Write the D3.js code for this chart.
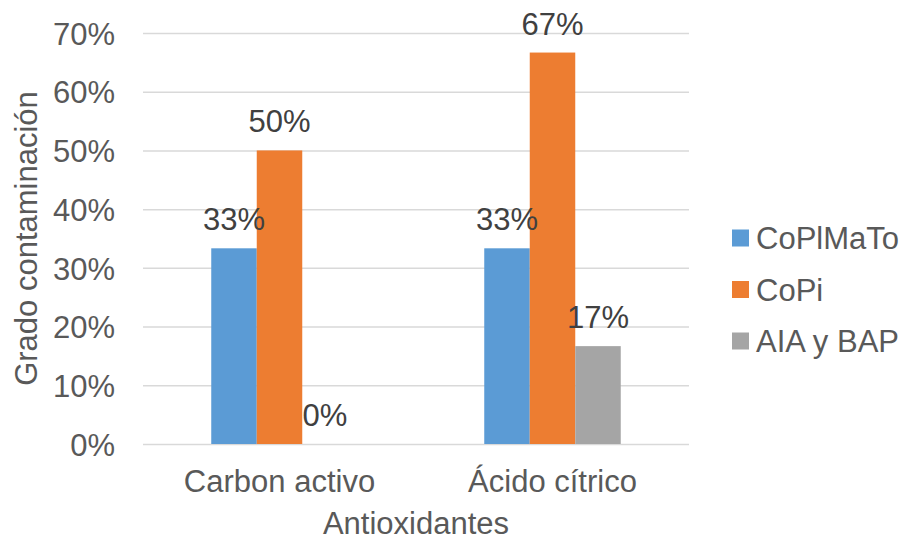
<!DOCTYPE html>
<html>
<head>
<meta charset="utf-8">
<script src="https://cdn.jsdelivr.net/npm/d3@7"></script>
<style>
  body { margin: 0; background: #fff; }
  svg { display: block; font-family: "Liberation Sans", Arial, sans-serif; }
</style>
</head>
<body>
<svg id="chart" width="908" height="540"></svg>
<script>
// Contamination grade by antioxidant treatment and culture medium
const categories = ["Carbon activo", "Ácido cítrico"];
const seriesNames = ["CoPlMaTo", "CoPi", "AIA y BAP"];
const valuesCoPlMaTo = [0.3333, 0.3333];
const valuesCoPi = [0.5, 0.6667];
const valuesAIA = [0, 0.1667];
const yTicks = [0, 0.1, 0.2, 0.3, 0.4, 0.5, 0.6, 0.7];
const colors = ["#5B9BD5", "#ED7D31", "#A5A5A5"];

const seriesValues = [valuesCoPlMaTo, valuesCoPi, valuesAIA];

const svg = d3.select("#chart");
const margin = { top: 33, right: 219, bottom: 96, left: 143 };
const W = +svg.attr("width"), H = +svg.attr("height");
const innerW = W - margin.left - margin.right;
const innerH = H - margin.top - margin.bottom;

const g = svg.append("g").attr("transform", `translate(${margin.left},${margin.top})`);

const x0 = d3.scaleBand().domain(categories).range([0, innerW]).paddingInner(0.5).paddingOuter(0.25);
const x1 = d3.scaleBand().domain(seriesNames).range([0, x0.bandwidth()]);
const y = d3.scaleLinear().domain([0, 0.7]).range([innerH, 0]);
const pct = d3.format(".0%");

// Horizontal gridlines and y tick labels
const yAxis = d3.axisLeft(y).tickValues(yTicks).tickFormat(pct).tickSize(-innerW).tickPadding(28);
const yg = g.append("g").call(yAxis);
yg.select(".domain").remove();
yg.selectAll(".tick line").attr("stroke", "#D9D9D9").attr("stroke-width", 1.5);
yg.selectAll(".tick text").attr("fill", "#595959").style("font-size", "31px")
  .attr("dy", "0.36em");

// Category axis labels
const xAxis = d3.axisBottom(x0).tickSize(0).tickPadding(26);
const xg = g.append("g").attr("transform", `translate(0,${innerH})`).call(xAxis);
xg.select(".domain").remove();
xg.selectAll(".tick text").attr("fill", "#595959").style("font-size", "31px");

// Bars
const rows = categories.map((c, i) => ({
  cat: c,
  vals: seriesNames.map((s, j) => ({ key: s, value: seriesValues[j][i], color: colors[j] }))
}));

const groups = g.selectAll(".grp").data(rows).join("g")
  .attr("class", "grp")
  .attr("transform", d => `translate(${x0(d.cat)},0)`);

groups.selectAll("rect").data(d => d.vals).join("rect")
  .attr("x", d => x1(d.key))
  .attr("width", x1.bandwidth())
  .attr("y", d => y(d.value))
  .attr("height", d => innerH - y(d.value))
  .attr("fill", d => d.color);

// Value labels
groups.selectAll("text.lbl").data(d => d.vals).join("text")
  .attr("class", "lbl")
  .attr("x", d => x1(d.key) + x1.bandwidth() / 2)
  .attr("y", d => y(d.value) - 18)
  .attr("text-anchor", "middle")
  .attr("fill", "#404040")
  .style("font-size", "31px")
  .text(d => pct(d.value));

// Axis titles
svg.append("text")
  .attr("transform", `translate(37,${margin.top + innerH / 2}) rotate(-90)`)
  .attr("text-anchor", "middle")
  .attr("fill", "#595959")
  .style("font-size", "31px")
  .text("Grado contaminación");

svg.append("text")
  .attr("x", margin.left + innerW / 2)
  .attr("y", 534)
  .attr("text-anchor", "middle")
  .attr("fill", "#595959")
  .style("font-size", "31px")
  .text("Antioxidantes");

// Legend
const legend = svg.append("g").attr("transform", "translate(732,238)");
const li = legend.selectAll("g").data(seriesNames).join("g")
  .attr("transform", (d, i) => `translate(0,${i * 51.5})`);
li.append("rect").attr("x", 0).attr("y", -8.5).attr("width", 17).attr("height", 17)
  .attr("fill", (d, i) => colors[i]);
li.append("text").attr("x", 24).attr("y", 0).attr("dy", "0.36em")
  .attr("fill", "#595959").style("font-size", "31px").text(d => d);
</script>
</body>
</html>
